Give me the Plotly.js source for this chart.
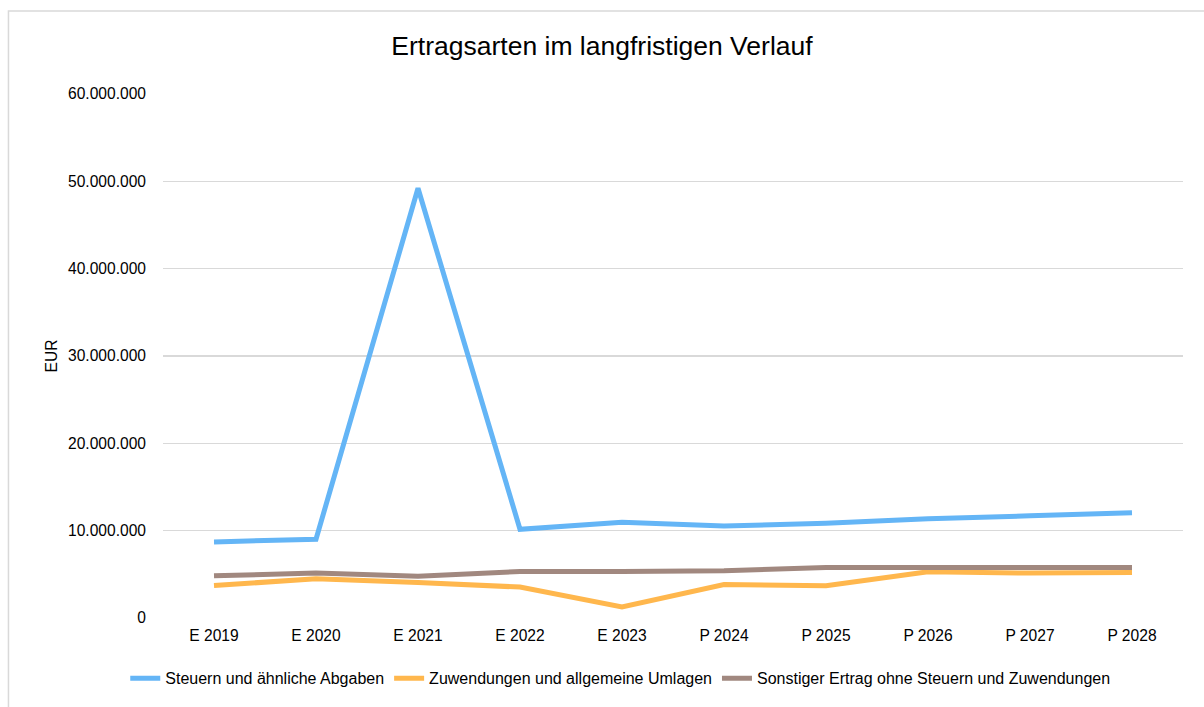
<!DOCTYPE html>
<html>
<head>
<meta charset="utf-8">
<script src="https://cdn.plot.ly/plotly-3.0.1.min.js"></script>
<style>html,body{margin:0;padding:0;background:#fff;}#chart{width:1204px;height:707px;}</style>
</head>
<body>
<div id="chart"></div>
<script>
const categories = ["E 2019","E 2020","E 2021","E 2022","E 2023","P 2024","P 2025","P 2026","P 2027","P 2028"];
const steuern = [8710000, 9020000, 49200000, 10160000, 10960000, 10540000, 10840000, 11370000, 11700000, 12050000];
const zuwendungen = [3720000, 4490000, 4070000, 3540000, 1260000, 3840000, 3690000, 5290000, 5140000, 5200000];
const sonstiger = [4830000, 5140000, 4790000, 5320000, 5320000, 5400000, 5780000, 5780000, 5780000, 5780000];
const seriesNames = ["Steuern und ähnliche Abgaben", "Zuwendungen und allgemeine Umlagen", "Sonstiger Ertrag ohne Steuern und Zuwendungen"];
const tickVals = [0, 10000000, 20000000, 30000000, 40000000, 50000000, 60000000];
const tickText = ["0", "10.000.000", "20.000.000", "30.000.000", "40.000.000", "50.000.000", "60.000.000"];
const colors = ["#64B5F6", "#FFB74D", "#A1887F"];

const font = "Liberation Sans, Arial, sans-serif";
const series = [steuern, zuwendungen, sonstiger];
const traces = series.map((s, i) => ({
  x: categories, y: s, name: seriesNames[i], type: "scatter", mode: "lines",
  line: {color: colors[i], width: 5, shape: "linear"}
}));

const layout = {
  width: 1204, height: 707,
  margin: {l: 163, r: 21, t: 94, b: 89},
  paper_bgcolor: "#fff", plot_bgcolor: "#fff",
  font: {family: font, color: "#000", size: 15.6},
  title: {text: "Ertragsarten im langfristigen Verlauf", font: {size: 26.5, family: font, color: "#000"}, x: 0.5, xanchor: "center", y: 0.935, yanchor: "middle"},
  xaxis: {type: "category", showgrid: false, zeroline: false, showline: false, ticks: "", tickfont: {size: 15.6}, ticklabelstandoff: 6, range: [-0.5, 9.5]},
  yaxis: {range: [0, 60000000], tickvals: tickVals, ticktext: tickText, showgrid: true, gridcolor: "#d9d9d9", gridwidth: 1.3, zeroline: false, showline: false, ticks: "", tickfont: {size: 15.6}, ticklabelstandoff: 16,
    title: {text: "EUR", font: {size: 15.6}, standoff: 6}},
  legend: {orientation: "h", x: -0.037, xanchor: "left", y: -0.115, yanchor: "middle", font: {size: 16}, itemwidth: 30, traceorder: "normal"},
  shapes: [{type: "rect", xref: "paper", yref: "paper", x0: -0.1515, x1: 1.03, y0: -0.2, y1: 1.1585, line: {color: "#d9d9d9", width: 1.5}, fillcolor: "rgba(0,0,0,0)", layer: "below"}]
};

Plotly.newPlot("chart", traces, layout, {displayModeBar: false, staticPlot: true});
</script>
</body>
</html>
